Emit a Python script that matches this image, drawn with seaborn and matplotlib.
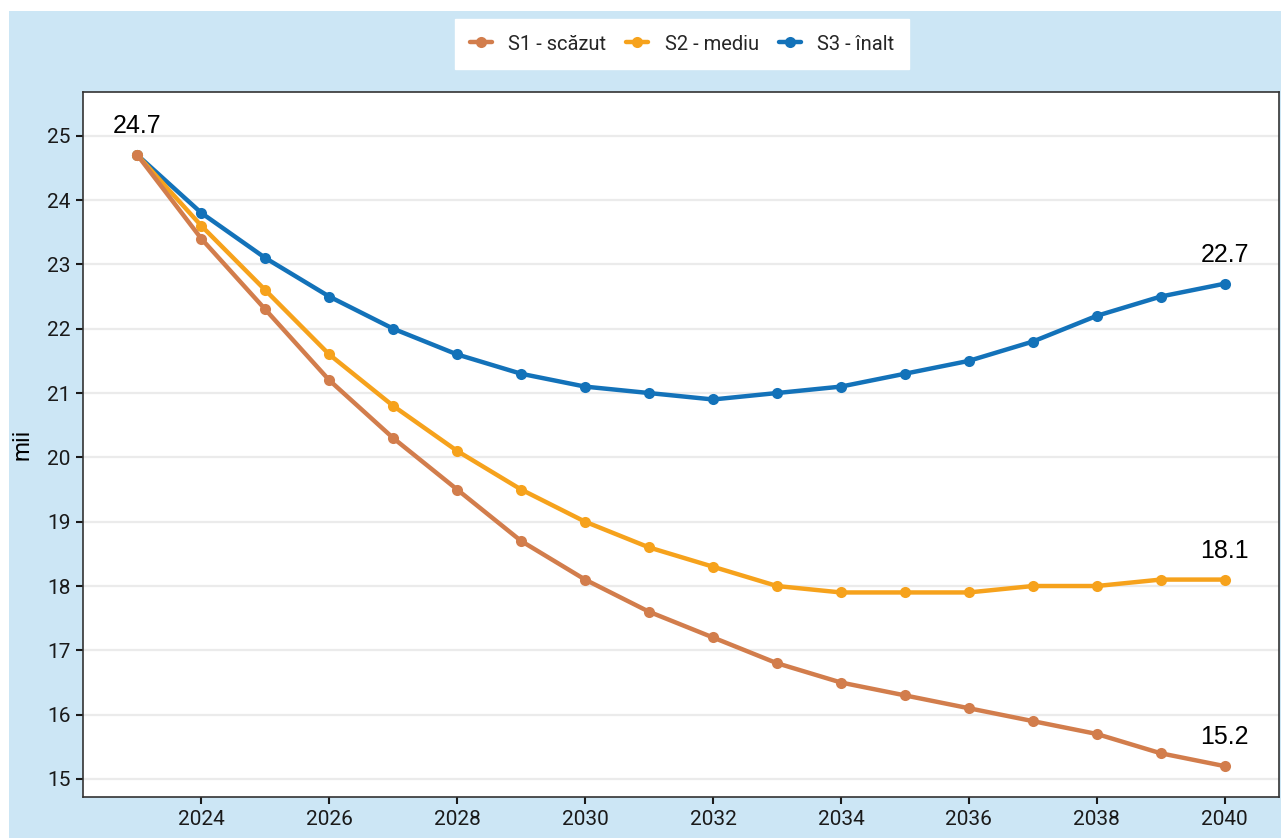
import numpy as np
import pandas as pd
import matplotlib
matplotlib.use('Agg')
import matplotlib.pyplot as plt
from matplotlib.patches import Rectangle
from matplotlib.lines import Line2D
import seaborn as sns

# data (thousands)
years = list(range(2023, 2041))
s1_scazut = [24.7, 23.4, 22.3, 21.2, 20.3, 19.5, 18.7, 18.1, 17.6, 17.2,
             16.8, 16.5, 16.3, 16.1, 15.9, 15.7, 15.4, 15.2]
s2_mediu = [24.7, 23.6, 22.6, 21.6, 20.8, 20.1, 19.5, 19.0, 18.6, 18.3,
            18.0, 17.9, 17.9, 17.9, 18.0, 18.0, 18.1, 18.1]
s3_inalt = [24.7, 23.8, 23.1, 22.5, 22.0, 21.6, 21.3, 21.1, 21.0, 20.9,
            21.0, 21.1, 21.3, 21.5, 21.8, 22.2, 22.5, 22.7]
scenarios = ['S1 - scăzut', 'S2 - mediu', 'S3 - înalt']
colors = ['#d27d4c', '#f6a21c', '#1372b9']

df = pd.DataFrame({
    'an': years * 3,
    'valoare': s1_scazut + s2_mediu + s3_inalt,
    'scenariu': [scenarios[0]] * 18 + [scenarios[1]] * 18 + [scenarios[2]] * 18,
})

sns.set_style('white')
plt.rcParams['font.family'] = ['Roboto', 'DejaVu Sans']

fig = plt.figure(figsize=(12.81, 8.38), dpi=100)
fig.patch.set_facecolor('white')
# light blue panel behind everything
fig.patches.append(Rectangle((9 / 1281, 0), 1, 1 - 11 / 838, transform=fig.transFigure,
                             facecolor='#cce6f5', edgecolor='none', zorder=-10))

ax = fig.add_axes([83 / 1281, 1 - 797 / 838, (1279 - 83) / 1281, (797 - 92) / 838])
ax.set_facecolor('white')

# plot in reverse so S1 ends on top like the reference
for name, col in list(zip(scenarios, colors))[::-1]:
    sub = df[df['scenariu'] == name]
    sns.lineplot(data=sub, x='an', y='valoare', color=col, marker='o',
                 markersize=8, markeredgewidth=0, linewidth=3.2, ax=ax, legend=False)

ax.set_xlim(2022.15, 2040.85)
ax.set_ylim(14.72, 25.68)
ax.set_xticks(range(2024, 2041, 2))
ax.set_yticks(range(15, 26))
ax.grid(axis='y', color='#ebebeb', linewidth=1.6)
ax.set_axisbelow(True)
ax.set_xlabel('')
ax.set_ylabel('mii', fontsize=16.5, color='black', labelpad=10)
ax.tick_params(axis='both', labelsize=15, colors='#1a1a1a', length=5, width=1.5,
               direction='out', bottom=True, left=True, pad=4)
for sp in ax.spines.values():
    sp.set_color('#333333')
    sp.set_linewidth(1.2)

# end labels
lab_font = ['Liberation Sans', 'DejaVu Sans']
ax.text(2023, s1_scazut[0] + 0.45, '24.7', ha='center', va='center', fontsize=18,
        family=lab_font, color='black')
for vals in (s3_inalt, s2_mediu, s1_scazut):
    ax.text(2040, vals[-1] + 0.45, f'{vals[-1]:.1f}', ha='center', va='center',
            fontsize=18, family=lab_font, color='black')

handles = [Line2D([0], [0], color=c, marker='o', markersize=8, linewidth=3.2,
                  markeredgewidth=0) for c in colors]
leg = fig.legend(handles, scenarios, loc='center', bbox_to_anchor=(682 / 1281, 1 - 44 / 838),
                 ncol=3, frameon=True, fancybox=False, fontsize=14.5, handlelength=1.1,
                 columnspacing=1.0, handletextpad=0.8, borderpad=0.75, framealpha=1)
leg.get_frame().set_facecolor('white')
leg.get_frame().set_edgecolor('white')

fig.savefig('out.png', dpi=100, facecolor=fig.get_facecolor())
